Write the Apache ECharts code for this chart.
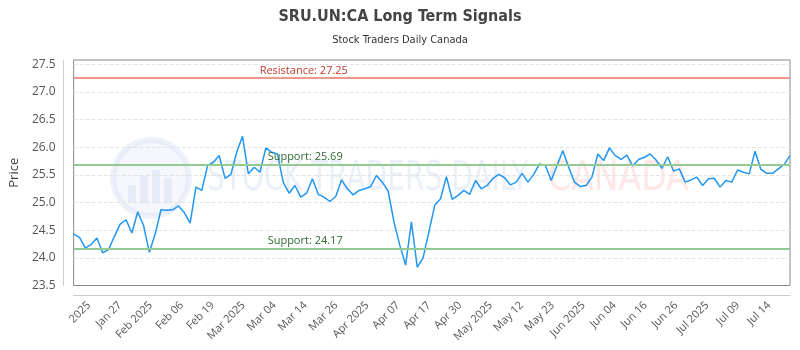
<!DOCTYPE html>
<html>
<head>
<meta charset="utf-8">
<script src="https://cdn.jsdelivr.net/npm/echarts@6/dist/echarts.min.js"></script>
<style>
  html, body { margin: 0; padding: 0; background: #fff; }
  #chart { width: 800px; height: 350px; }
</style>
</head>
<body>
<div id="chart"></div>
<script>
// SRU.UN:CA 长期信号图
const tickLabels = ['2025', 'Jan 27', 'Feb 2025', 'Feb 06', 'Feb 19', 'Mar 2025', 'Mar 04', 'Mar 14', 'Mar 26',
    'Apr 2025', 'Apr 07', 'Apr 17', 'Apr 30', 'May 2025', 'May 12', 'May 23', 'Jun 2025', 'Jun 04', 'Jun 16',
    'Jun 26', 'Jul 2025', 'Jul 09', 'Jul 14'];

const prices = [
    24.43, 24.37, 24.18, 24.24, 24.36, 24.09, 24.15, 24.39, 24.61, 24.69,
    24.45, 24.83, 24.59, 24.10, 24.43, 24.87, 24.86, 24.87, 24.94, 24.82,
    24.63, 25.28, 25.22, 25.67, 25.73, 25.85, 25.44, 25.51, 25.91, 26.20,
    25.52, 25.64, 25.55, 25.99, 25.91, 25.88, 25.36, 25.17, 25.31, 25.10,
    25.17, 25.43, 25.15, 25.10, 25.02, 25.11, 25.41, 25.25, 25.14, 25.22,
    25.25, 25.29, 25.49, 25.37, 25.21, 24.65, 24.23, 23.87, 24.65, 23.83,
    24.00, 24.47, 24.95, 25.07, 25.47, 25.06, 25.13, 25.22, 25.15, 25.40,
    25.25, 25.31, 25.44, 25.51, 25.45, 25.32, 25.37, 25.53, 25.37, 25.51,
    25.70, 25.67, 25.40, 25.67, 25.94, 25.64, 25.37, 25.29, 25.31, 25.46,
    25.88, 25.76, 25.99, 25.85, 25.78, 25.86, 25.66, 25.78, 25.82, 25.88,
    25.77, 25.62, 25.83, 25.57, 25.61, 25.37, 25.41, 25.46, 25.31, 25.43,
    25.44, 25.28, 25.40, 25.37, 25.59, 25.55, 25.52, 25.93, 25.60, 25.53,
    25.53, 25.61, 25.69, 25.85
];

const resistance = 27.25;
const supports = [25.69, 24.17];

const dayIndex = prices.map((p, i) => i);

const chart = echarts.init(document.getElementById('chart'));

const option = {
    animation: false,
    title: {
        text: 'SRU.UN:CA Long Term Signals',
        subtext: 'Stock Traders Daily Canada',
        left: 'center',
        top: 4,
        itemGap: 10,
        textStyle: {
            fontFamily: '"DejaVu Sans Condensed", "DejaVu Sans", sans-serif',
            fontSize: 16,
            fontWeight: 'bold',
            color: '#444'
        },
        subtextStyle: {
            fontFamily: '"DejaVu Sans Condensed", "DejaVu Sans", sans-serif',
            fontSize: 11,
            color: '#333'
        }
    },
    // 水印（背景logo和文字）
    graphic: [
        {
            type: 'circle',
            shape: { cx: 151, cy: 178, r: 38 },
            style: { fill: 'rgba(225,232,246,0.35)', stroke: 'rgba(215,225,243,0.45)', lineWidth: 6 },
            z: 0
        },
        {
            type: 'group',
            z: 0,
            children: [
                { type: 'rect', shape: { x: 128, y: 185, width: 8, height: 18 }, style: { fill: 'rgba(205,218,240,0.4)' } },
                { type: 'rect', shape: { x: 140, y: 176, width: 8, height: 27 }, style: { fill: 'rgba(205,218,240,0.4)' } },
                { type: 'rect', shape: { x: 152, y: 170, width: 8, height: 33 }, style: { fill: 'rgba(205,218,240,0.4)' } },
                { type: 'rect', shape: { x: 164, y: 178, width: 8, height: 25 }, style: { fill: 'rgba(205,218,240,0.4)' } }
            ]
        },
        {
            type: 'text',
            x: 207,
            y: 160,
            scaleX: 0.78,
            style: {
                text: 'STOCK TRADERS DAILY',
                font: '40px "DejaVu Sans Condensed", sans-serif',
                fill: 'rgba(205,216,238,0.4)'
            },
            z: 0
        },
        {
            type: 'text',
            x: 548,
            y: 160,
            scaleX: 0.92,
            style: {
                text: 'CANADA',
                font: '40px "DejaVu Sans Condensed", sans-serif',
                fill: 'rgba(250,195,195,0.4)'
            },
            z: 0
        }
    ],
    grid: [
        {
            left: 71,
            right: 10,
            top: 60,
            bottom: 64.5,
            show: true,
            borderColor: '#888',
            borderWidth: 1
        },
        {
            left: 89,
            right: 31,
            top: 60,
            bottom: 64.5,
            show: false
        }
    ],
    xAxis: [
        {
            type: 'category',
            gridIndex: 0,
            data: dayIndex,
            boundaryGap: false,
            offset: 10,
            axisLine: { show: true, lineStyle: { color: '#ccc' } },
            axisTick: { show: false },
            axisLabel: { show: false },
            splitLine: { show: false }
        },
        {
            type: 'category',
            gridIndex: 1,
            data: tickLabels,
            boundaryGap: false,
            offset: 10,
            axisLine: { show: false },
            axisTick: { show: false },
            axisLabel: {
                interval: 0,
                rotate: 45,
                fontSize: 11,
                color: '#555',
                fontFamily: '"Open Sans", sans-serif'
            },
            splitLine: { show: false }
        }
    ],
    yAxis: [
        {
            type: 'value',
            gridIndex: 0,
            min: 23.5,
            max: 27.58,
            interval: 0.5,
            offset: 10,
            name: 'Price',
            nameLocation: 'middle',
            nameGap: 40,
            nameTextStyle: {
                fontSize: 13,
                color: '#444',
                fontFamily: '"Open Sans", sans-serif'
            },
            axisLine: { show: true, lineStyle: { color: '#ccc' } },
            axisTick: { show: false },
            axisLabel: {
                showMaxLabel: false,
                fontSize: 12,
                color: '#555',
                fontFamily: '"Open Sans", sans-serif',
                formatter: function(v) { return v.toFixed(1); }
            },
            splitLine: {
                show: true,
                showMinLine: false,
                showMaxLine: false,
                lineStyle: { color: '#e3e3e3', type: 'dashed' }
            }
        },
        {
            type: 'value',
            gridIndex: 1,
            show: false
        }
    ],
    series: [
        {
            name: 'Price',
            type: 'line',
            xAxisIndex: 0,
            yAxisIndex: 0,
            data: prices,
            symbol: 'none',
            lineStyle: { color: '#2196f3', width: 1.5 },
            z: 3,
            markLine: {
                silent: true,
                symbol: 'none',
                animation: false,
                data: [
                    {
                        yAxis: resistance,
                        lineStyle: { color: '#f0968c', width: 2, type: 'solid' },
                        label: {
                            formatter: 'Resistance: ' + resistance,
                            color: '#c0392b',
                            padding: [0, 0, 0, 184]
                        }
                    },
                    {
                        yAxis: supports[0],
                        lineStyle: { color: '#93c993', width: 2, type: 'solid' },
                        label: {
                            formatter: 'Support: ' + supports[0],
                            color: '#2e6b30',
                            padding: [0, 0, 0, 192]
                        }
                    },
                    {
                        yAxis: supports[1],
                        lineStyle: { color: '#93c993', width: 2, type: 'solid' },
                        label: {
                            formatter: 'Support: ' + supports[1],
                            color: '#2e6b30',
                            padding: [0, 0, 0, 192]
                        }
                    }
                ],
                label: {
                    position: 'insideStartTop',
                    fontSize: 11,
                    fontFamily: '"Open Sans", sans-serif',
                    distance: 2
                }
            }
        }
    ]
};

chart.setOption(option);
</script>
</body>
</html>
